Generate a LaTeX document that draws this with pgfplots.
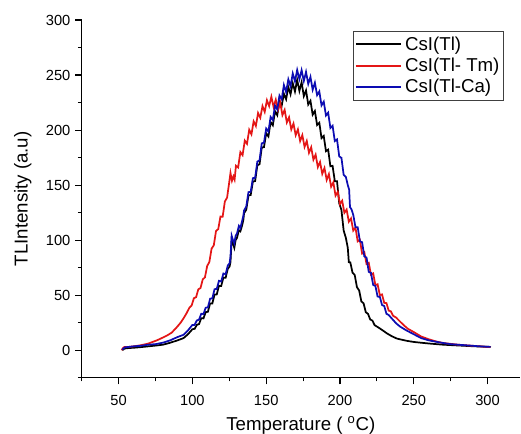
\documentclass[border=0pt]{standalone}
\usepackage{fontspec}
\setmainfont{Liberation Sans}
\usepackage{pgfplots}
\pgfplotsset{compat=1.18}

\definecolor{tlred}{RGB}{228,22,22}
\definecolor{tlblue}{RGB}{12,12,178}

\begin{document}
\begin{tikzpicture}
\begin{axis}[
    scale only axis,
    width=328.7pt, height=268.3pt,
    xmin=25, xmax=322,
    ymin=-25, ymax=300,
    axis lines=left,
    axis line style={-, line width=0.8pt},
    xtick={50,100,...,300},
    ytick={0,50,...,300},
    minor xtick={25,75,...,275},
    minor ytick={-25,25,...,275},
    tick align=outside,
    major tick length=5pt,
    minor tick length=2.8pt,
    every tick/.style={black, line width=0.8pt},
    /pgf/number format/assume math mode=true,
    tick label style={font=\fontsize{11}{13}\selectfont},
    xticklabel style={yshift=-4.5pt},
    xlabel={Temperature ( \textsuperscript{o}C)},
    ylabel={TLIntensity (a.u)},
    label style={font=\fontsize{14}{16}\selectfont},
    xlabel style={yshift=-1.5pt},
    ylabel style={yshift=4pt},
    legend style={
        at={(0.9635,0.970)}, anchor=north east,
        draw=black!75,
        font=\fontsize{14}{16}\selectfont,
        legend cell align=left,
        inner xsep=1pt, inner ysep=2pt,
        nodes={inner sep=2.2pt},
    },
    legend image code/.code={\draw[mark repeat=2,mark phase=2,#1] plot coordinates {(0cm,0cm) (0.6cm,0cm) (1.2cm,0cm)};},
]

% CsI(Tl)
\addplot[black, line width=1.3pt] coordinates {
(52.5,0) (54,1.5) (57,2) (60,2.2) (65,2.8) (70,3.5) (75,4.2) (80,5) (85,6.8) (90,9) (94,11) (97,14.5)
(100,19.1) (101.5,19.4) (103,23) (104.5,23.8) (106,29.1) (107.5,28.9) (109,34.6) (110.5,34.9)
(112,42.5) (113.5,42.5) (115,50.6) (116.5,50.7) (118,58.5) (119.5,58.3) (121,66) (122.5,65.8)
(124,74) (125.2,76) (125.8,80) (126.6,100) (127.5,97) (128.4,93) (129.3,100) (130.2,102)
(131.5,109) (132.5,108) (133.6,113) (134.5,118) (135,124.5) (136.5,127.6) (138,140.6) (139.5,141)
(141,153.3) (142.5,153.6) (144,168) (145.5,169) (147,184.1) (148.5,184.5) (150,197.1) (151.5,194.2)
(153,207.2) (154.5,204.3) (156,217) (157.5,213.5) (159,226) (160.5,222) (162,233) (163.5,228)
(165,239) (166.5,232.5) (168,242.5) (169.5,235) (171,245.5) (172.5,235.5) (174,243.5) (175.5,230.8)
(177,236) (178.5,223.2) (180,226.6) (181.5,214) (183,217.3) (184.5,204.6) (186,206.6) (187.5,192.7)
(189,194.7) (190.5,180.8) (192,182.2) (193.5,167.1) (195,167.5) (196.5,153.5) (198,153.5) (199.5,133.5)
(201,127.3) (202.5,108.7) (204,102) (205.3,93) (206,80) (207,79.8) (208.5,70.5) (210,68.3)
(211.5,57.3) (213,54.3) (214.5,44.3) (216,42.6) (217.5,34.5) (219,33) (220.5,27.9) (222,26.9)
(223.5,22.7) (225,21.5) (227,19.8) (229,18) (231.7,15.4) (235,12.8) (238.5,10.6) (242,9.5)
(245,8.6) (250,7.5) (255,6.8) (261,6) (270,5) (280,4.3) (290,3.6) (301.6,3) (302,2.5)
};
\addlegendentry{CsI(Tl)}

% CsI(Tl- Tm)
\addplot[tlred, line width=1.3pt] coordinates {
(52,0) (53,2) (54,3) (57,3) (60,3.5) (65,4.5) (70,6) (73,7.5) (76,9) (80,11.5) (83,13.5) (86,16)
(89.5,21) (92,25) (94,29) (96,33.5) (98,38.7) (99.5,40.7) (101,47.2) (102.5,48.2) (104,55.3)
(105.5,56.5) (107,64.3) (108.5,66.2) (110,76.5) (111.5,80.2) (113,92.3) (114.5,95.3) (116,108.3)
(117.5,110) (119,121.4) (120.5,121.3) (122,135.1) (123.5,138.6) (125,153) (125.8,161) (126.8,154)
(127.8,158) (128.6,155) (129.5,167.6) (131,166) (132.5,180) (134,177.2) (135.5,190.4) (137,187.5)
(138.5,200.3) (140,196.1) (141.5,207.9) (143,203.7) (144.5,215.5) (146,211.2) (147.5,221.8)
(149,216.5) (150.5,227.1) (152,221.8) (153.5,230.3) (155,221) (156.5,227.6) (158,218.3) (159.5,225)
(161,213.6) (162.5,218.3) (164,206.9) (165.5,211.6) (167,200.6) (168.5,205.9) (170,195.3)
(171.5,200.6) (173,190) (174.5,195.4) (176,184.7) (177.5,190.1) (179,179.4) (180.5,184.4)
(182,173.1) (183.5,177.7) (185,166.4) (186.5,171) (188,160.2) (189.5,165.5) (191,154.7) (192.5,160)
(194,148.6) (195.5,152.5) (197,140.4) (198.5,143.9) (200,132.8) (201.5,135.8) (203,124.8)
(204.5,127.8) (206,116.8) (207.5,119.7) (209,108.7) (210.5,111.4) (212,98.9) (213.5,100.3)
(215,87.8) (216.5,89.1) (218,78.3) (219.5,79.4) (221,68.6) (222.5,69.8) (224,59.1) (225.5,59.9)
(227,50.1) (228.5,50.7) (230,43) (231.5,42.8) (233,36) (234.5,35.3) (236,31.3) (238,29.7) (240,27)
(243,23) (246,19.5) (250,16.5) (255,12.5) (260,10) (265,8) (270,6.5) (280,5) (290,4) (300,3) (302,3)
};
\addlegendentry{CsI(Tl- Tm)}

% CsI(Tl-Ca)
\addplot[tlblue, line width=1.3pt] coordinates {
(52.5,0.5) (54,2.5) (57,3) (60,3.5) (65,4) (70,5) (75,5.5) (80.5,7) (85,9) (90,12) (94,14) (97,18)
(100,23) (101.5,23) (103,27) (104.5,27.8) (106,33.1) (107.5,32.9) (109,38.6) (110.5,38.9)
(112,46.8) (113.5,47.1) (115,55.4) (116.5,55.7) (118,63.1) (119.5,62.4) (121,69.7) (122.5,69)
(124,77) (125.2,79) (125.8,85) (126.6,104) (127.5,100) (128.4,97) (129.3,104) (130.2,106)
(131.5,113) (132.5,111) (133.6,117) (134.5,122) (135,126.9) (136.5,130.5) (138,143.6) (139.5,143.9)
(141,156.3) (142.5,156.6) (144,171.3) (145.5,172.6) (147,187.9) (148.5,188.6) (150,201.4)
(151.5,198.6) (153,211.9) (154.5,209.2) (156,222.1) (157.5,218.7) (159,231.4) (160.5,228)
(162,240.9) (163.5,234.5) (165,246.1) (166.5,239.8) (168,251.4) (169.5,244.3) (171,254.6)
(172.5,246.2) (174,254.4) (175.5,244.6) (177,252.8) (178.5,241.9) (180,248.3) (181.5,236.6)
(183,243) (184.5,231.7) (186,235.1) (187.5,222.4) (189,225.8) (190.5,213.2) (192,215.8)
(193.5,201.9) (195,203.9) (196.5,190) (198,191.5) (199.5,176.1) (201,174.7) (202.5,159.3)
(204,157.4) (205.3,150) (206.2,146) (206.8,130) (207.8,128) (209,123) (210.5,111.8) (212,111.8)
(213.5,99) (215,98.1) (216.5,85.2) (218,84.2) (219.5,71.2) (221,70.2) (222.5,59.3) (224,58.4)
(225.5,48.7) (227,48.6) (228.5,41.1) (230,40.1) (231.5,33.1) (233,32) (235,29) (238,24.5)
(240.7,21.5) (245,18) (250,14.5) (255,11) (260,9) (267.8,7) (275,5.5) (285,4.5) (295,3.5) (302,3)
};
\addlegendentry{CsI(Tl-Ca)}

\end{axis}
\pgfresetboundingbox
\path[use as bounding box] (-61.3pt,-42.2pt) rectangle (329.45pt,283.3pt);
\end{tikzpicture}
\end{document}
